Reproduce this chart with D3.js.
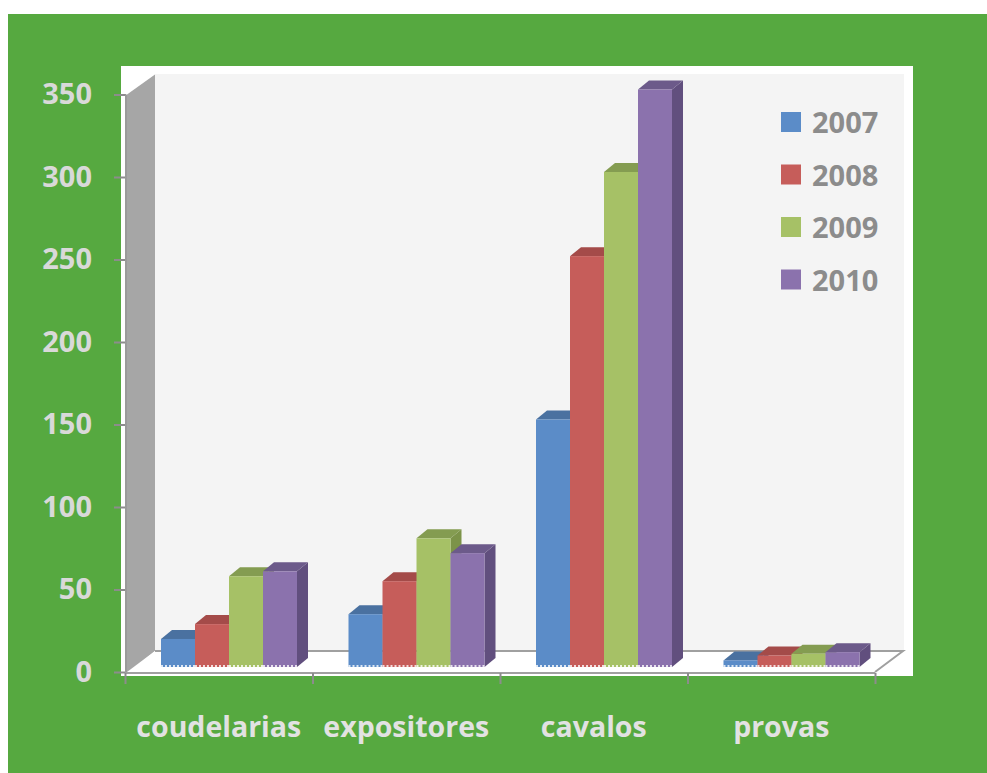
<!DOCTYPE html>
<html>
<head>
<meta charset="utf-8">
<title>3D columns</title>
<script src="https://cdn.jsdelivr.net/npm/d3@7/dist/d3.min.js"></script>
<style>
  body { margin: 0; background: #fff; }
  text { font-family: "Open Sans", "DejaVu Sans", sans-serif; font-weight: bold; }
  .yaxis text { font-size: 29px; fill: #d9d9d9; }
  .yaxis line, .xticks line { stroke: #8c8c8c; stroke-width: 2; }
  .cat { font-size: 28.5px; fill: #e2e2e2; text-anchor: middle; }
  .legend text { font-size: 29px; fill: #8c8c8c; }
</style>
</head>
<body>
<script>
// data
var categories = ["coudelarias", "expositores", "cavalos", "provas"];
var years = ["2007", "2008", "2009", "2010"];
var v2007 = [17, 32, 150, 4];
var v2008 = [26, 52, 249, 7];
var v2009 = [55, 78, 300, 8];
var v2010 = [58, 69, 350, 9];
var yTicks = [0, 50, 100, 150, 200, 250, 300, 350];

var series = [v2007, v2008, v2009, v2010];
var frontCol = ["#5b8cc8", "#c65d5a", "#a6c166", "#8b72ad"];
var topCol   = ["#4a71a0", "#a44b49", "#849c51", "#6c5a8a"];
var sideCol  = ["#46699a", "#9a4442", "#7c9349", "#614f7e"];

var w = 987, h = 773;
var svg = d3.select("body").append("svg").attr("width", w).attr("height", h);

// green frame + white plot box
svg.append("rect").attr("x", 8).attr("y", 14).attr("width", w - 8).attr("height", h - 14).attr("fill", "#56a940");
svg.append("rect").attr("x", 121).attr("y", 66).attr("width", 792).attr("height", 610).attr("fill", "#fff");

// 3d depth of the walls and of the bars
var dx = 28, dy = 21;     // wall depth
var bdx = 11, bdy = 9;    // bar depth
var barLift = 5;          // bars stand mid floor

var y = d3.scaleLinear().domain([0, 350]).range([672, 94.5]);
var x = d3.scaleBand().domain(categories).range([125, 875]);
var xb = d3.scaleLinear().domain([0, categories.length]).range([125, 875]);
var inner = d3.scaleBand().domain(years).range([36, 36 + 136]);

// back wall
svg.append("rect").attr("x", 127 + dx).attr("y", 74).attr("width", 904 - 127 - dx).attr("height", y(0) - dy - 74 + 1).attr("fill", "#f4f4f4");
// side wall
svg.append("polygon")
  .attr("points", [[127, y(350)], [127 + dx, y(350) - dy + 1], [127 + dx, y(0) - dy], [127, y(0)]].join(" "))
  .attr("fill", "#a6a6a6");
// floor
svg.append("polygon")
  .attr("points", [[129, y(0)], [127 + dx, y(0) - dy], [875 + dx, y(0) - dy], [875, y(0)]].join(" "))
  .attr("fill", "#fff");
svg.append("polyline")
  .attr("points", [[127 + dx, y(0) - dy], [875 + dx, y(0) - dy], [875, y(0)]].join(" "))
  .attr("fill", "none").attr("stroke", "#a0a0a0").attr("stroke-width", 2);

// bars, left to right so the next front face hides the previous side
var bars = svg.append("g");
categories.forEach(function(c, ci) {
  series.forEach(function(vals, si) {
    var x0 = x(c) + inner(years[si]);
    var bw = inner.bandwidth();
    var yt = y(vals[ci]) - barLift;
    var yb = y(0) - barLift;
    var g = bars.append("g");
    g.append("polygon")
      .attr("points", [[x0 + bw, yt], [x0 + bw + bdx, yt - bdy], [x0 + bw + bdx, yb - bdy], [x0 + bw, yb]].join(" "))
      .attr("fill", sideCol[si]);
    g.append("polygon")
      .attr("points", [[x0, yt], [x0 + bdx, yt - bdy], [x0 + bw + bdx, yt - bdy], [x0 + bw, yt]].join(" "))
      .attr("fill", topCol[si]);
    g.append("rect")
      .attr("x", x0).attr("y", yt).attr("width", bw).attr("height", yb - yt)
      .attr("fill", frontCol[si]);
    g.append("line")
      .attr("x1", x0).attr("x2", x0 + bw).attr("y1", yb - 1).attr("y2", yb - 1)
      .attr("stroke", "#fff").attr("stroke-width", 2).attr("stroke-dasharray", "2,2").attr("opacity", 0.8);
  });
});

// y axis
var yAxis = svg.append("g")
  .attr("class", "yaxis")
  .attr("transform", "translate(126,0)")
  .call(d3.axisLeft(y).tickValues(yTicks).tickSize(12).tickPadding(22));
yAxis.select(".domain").remove();
svg.append("line").attr("x1", 126).attr("x2", 126).attr("y1", y(350)).attr("y2", y(0))
  .attr("stroke", "#9a9a9a").attr("stroke-width", 2);

// x axis: line, boundary ticks, labels
svg.append("line").attr("x1", 125).attr("x2", 875).attr("y1", y(0) + 1).attr("y2", y(0) + 1)
  .attr("stroke", "#a0a0a0").attr("stroke-width", 2);
var xt = svg.append("g")
  .attr("class", "xticks")
  .attr("transform", "translate(0," + (y(0) + 1) + ")")
  .call(d3.axisBottom(xb).tickValues(d3.range(categories.length + 1)).tickSize(11).tickFormat(""));
xt.select(".domain").remove();

svg.append("g").selectAll("text")
  .data(categories)
  .enter()
  .append("text")
  .attr("class", "cat")
  .attr("x", function(d) { return x(d) + x.bandwidth() / 2; })
  .attr("y", 737)
  .text(function(d) { return d; });

// legend
var legend = svg.append("g").attr("class", "legend");
years.forEach(function(yr, i) {
  var ly = 112 + i * 52.5;
  legend.append("rect").attr("x", 781).attr("y", ly).attr("width", 20).attr("height", 20).attr("fill", frontCol[i]);
  legend.append("text").attr("x", 812).attr("y", ly + 21).text(yr);
});
</script>
</body>
</html>
